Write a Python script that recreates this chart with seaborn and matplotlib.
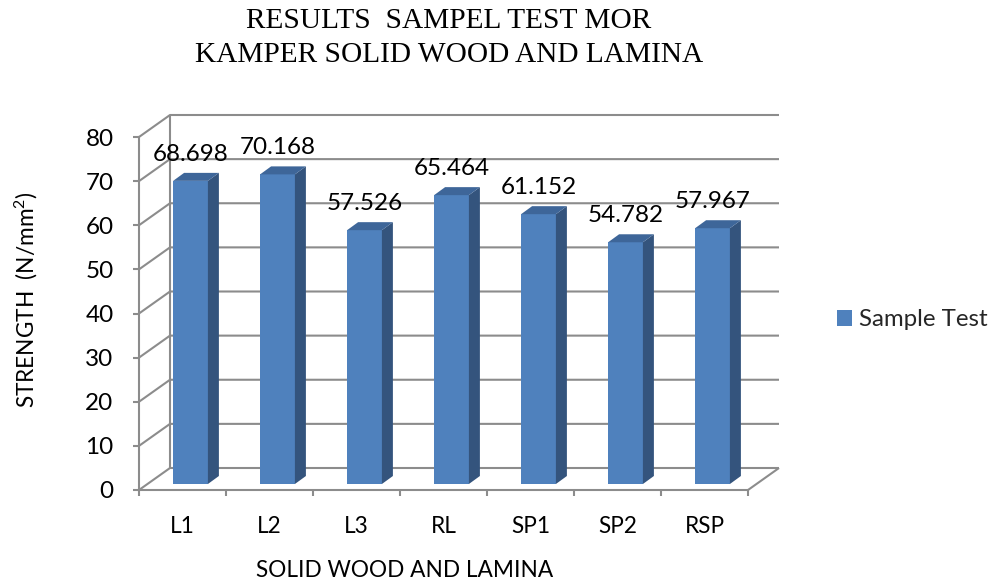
import numpy as np
import pandas as pd
import matplotlib
matplotlib.use("Agg")
import matplotlib.pyplot as plt
from matplotlib.patches import Polygon
import seaborn as sns

# MOR test results, N/mm^2
categories = ["L1", "L2", "L3", "RL", "SP1", "SP2", "RSP"]
strength = [68.698, 70.168, 57.526, 65.464, 61.152, 54.782, 57.967]
y_ticks = [0, 10, 20, 30, 40, 50, 60, 70, 80]
series_name = "Sample Test"
title_lines = ["RESULTS  SAMPEL TEST MOR", "KAMPER SOLID WOOD AND LAMINA"]
x_title = "SOLID WOOD AND LAMINA"
y_title = "STRENGTH  (N/mm$^{2}$)"

sns.set_theme(style="white")
plt.rcParams["font.family"] = ["Lato", "DejaVu Sans"]
plt.rcParams["mathtext.fontset"] = "custom"
plt.rcParams["mathtext.rm"] = "Lato"
plt.rcParams["mathtext.it"] = "Lato:italic"
plt.rcParams["mathtext.bf"] = "Lato:bold"

DPI = 100
W, H = 992, 582
fig = plt.figure(figsize=(W / DPI, H / DPI), dpi=DPI)
fig.patch.set_facecolor("white")

# front plane of the 3-D box, pixel positions measured from the top-left
left_px, right_px, top_px, bottom_px = 139, 748, 137, 490
ax = fig.add_axes([left_px / W, 1 - bottom_px / H,
                   (right_px - left_px) / W, (bottom_px - top_px) / H])
ax.set_facecolor("none")

FRONT = "#4F81BD"
SIDE = "#34547D"
TOP = "#3E6699"
GRID = "#8C8C8C"
FS_NUM = 17.5
FS_TXT = 16.3

df = pd.DataFrame({"group": categories, "strength": strength})
sns.barplot(data=df, x="group", y="strength", color=FRONT, saturation=1,
            width=0.4, errorbar=None, ax=ax, label=series_name,
            linewidth=0, zorder=3)
if ax.get_legend() is not None:
    ax.get_legend().remove()

xmin, xmax = -0.5, len(categories) - 0.5
ymin, ymax = y_ticks[0], y_ticks[-1]
ax.set_xlim(xmin, xmax)
ax.set_ylim(ymin, ymax)

# data units per pixel
ux = (xmax - xmin) / (right_px - left_px)
uy = (ymax - ymin) / (bottom_px - top_px)

WALL_DX, WALL_DY = 31, 22     # depth of the box
BAR_DX, BAR_DY = 8, 6         # bars sit a little behind the front plane
DEPTH_DX, DEPTH_DY = 11, 8    # depth of each column

wx, wy = WALL_DX * ux, WALL_DY * uy
line_kw = dict(color=GRID, lw=1.5, clip_on=False, zorder=1,
               solid_capstyle="butt")
for v in y_ticks:
    ax.plot([xmin, xmin + wx, xmax + wx], [v, v + wy, v + wy], **line_kw)
ax.plot([xmin + wx, xmin + wx], [ymin + wy, ymax + wy], **line_kw)
ax.plot([xmax, xmax + wx], [ymin, ymin + wy], **line_kw)

bx, by = BAR_DX * ux, BAR_DY * uy
dx, dy = DEPTH_DX * ux, DEPTH_DY * uy
for patch, val in zip(list(ax.patches), strength):
    w = patch.get_width()
    h = patch.get_height()
    x0 = patch.get_x() + bx
    x1 = x0 + w
    patch.set_x(x0)
    patch.set_y(by)
    patch.set_clip_on(False)
    ax.add_patch(Polygon([(x1, by), (x1, by + h), (x1 + dx, by + h + dy),
                          (x1 + dx, by + dy)], closed=True, facecolor=SIDE,
                         edgecolor="none", zorder=3, clip_on=False))
    ax.add_patch(Polygon([(x0, by + h), (x1, by + h), (x1 + dx, by + h + dy),
                          (x0 + dx, by + h + dy)], closed=True, facecolor=TOP,
                         edgecolor="none", zorder=3, clip_on=False))
    ax.annotate(f"{val:.3f}", (x0 + w / 2, by + h), xytext=(0, 20 * 72 / DPI),
                textcoords="offset points", ha="center", va="baseline",
                fontsize=FS_NUM, color="black", zorder=5,
                annotation_clip=False)

ax.set_yticks(y_ticks)
ax.set_xticks(np.arange(xmin, xmax + 0.01, 1))
ax.set_xticklabels([])
ax.set_xticks(range(len(categories)), minor=True)
ax.set_xticklabels(categories, minor=True)
ax.tick_params(axis="both", which="major", length=6 * 72 / DPI, width=1.5,
               color=GRID, direction="out", bottom=True, left=True)
ax.tick_params(axis="y", pad=14, labelsize=FS_NUM, labelcolor="black")
ax.tick_params(axis="x", which="minor", length=0, pad=19, labelsize=FS_TXT,
               labelcolor="black", bottom=True)
for s in ["top", "right"]:
    ax.spines[s].set_visible(False)
for s in ["left", "bottom"]:
    ax.spines[s].set_color(GRID)
    ax.spines[s].set_linewidth(1.5)
    ax.spines[s].set_zorder(2)
ax.set_xlabel("")
ax.set_ylabel("")

# titles
fig.text(449 / W, 1 - 28 / H, title_lines[0], family="Liberation Serif",
         fontsize=21.2, ha="center", va="baseline", color="black")
fig.text(449 / W, 1 - 62 / H, title_lines[1], family="Liberation Serif",
         fontsize=21.2, ha="center", va="baseline", color="black")
fig.text(405 / W, 1 - 577 / H, x_title, fontsize=FS_TXT, ha="center",
         va="baseline", color="black")
fig.text(26 / W, 1 - 300 / H, y_title, fontsize=FS_TXT, rotation=90,
         ha="center", va="center", color="black")

handles, labels = ax.get_legend_handles_labels()
fig.legend(handles[:1], labels[:1], loc="center left",
           bbox_to_anchor=(837 / W, 1 - 320 / H), frameon=False,
           fontsize=17.3, handlelength=0.62, handleheight=0.62,
           handletextpad=0.3, borderpad=0, borderaxespad=0)

fig.savefig("out.png", dpi=DPI)
